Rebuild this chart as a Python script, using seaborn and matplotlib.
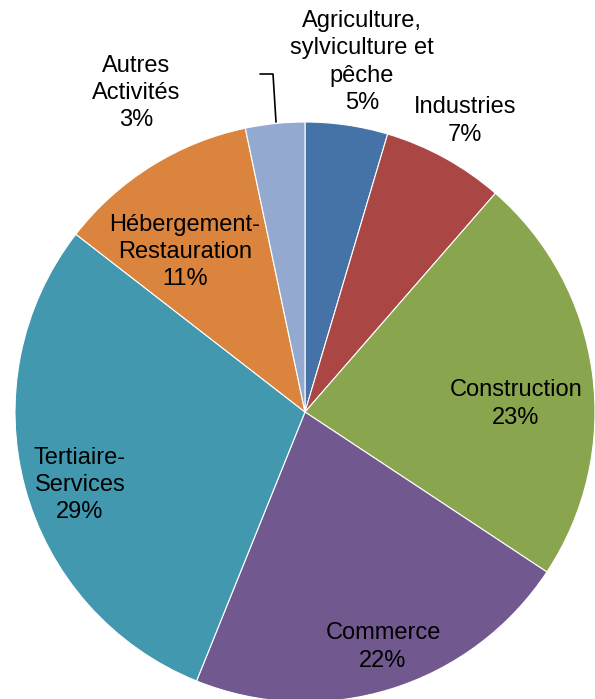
import matplotlib
matplotlib.use("Agg")
import matplotlib.pyplot as plt
import seaborn as sns

categories = ["Agriculture,\nsylviculture et\npêche", "Industries", "Construction",
              "Commerce", "Tertiaire-\nServices", "Hébergement-\nRestauration",
              "Autres\nActivités"]
shares = [4.6, 6.8, 22.9, 21.8, 29.4, 11.2, 3.3]
colors = ["#4572A7", "#AA4643", "#89A54E", "#71588F", "#4198AF", "#DB843D", "#93A9CF"]

# label centres in pixel coords (x, y from top)
label_pos = [(362, 62), (465, 121), (516, 404), (383, 647), (80, 485), (185, 252), (136, 93)]

sns.set_style("white")
plt.rcParams['font.family'] = ['Liberation Sans', 'DejaVu Sans']

W, H = 595, 699
fig = plt.figure(figsize=(W / 100, H / 100), dpi=100)
ax = fig.add_axes([0, 0, 1, 1])

cx, cy, r = 305, H - 412, 290
ax.pie(shares, colors=colors, startangle=90, counterclock=False,
       center=(cx, cy), radius=r, frame=True,
       wedgeprops=dict(edgecolor='white', linewidth=0.8))
ax.set_xlim(0, W)
ax.set_ylim(0, H)
ax.set_aspect('equal')
ax.axis('off')

for cat, val, (x, y) in zip(categories, shares, label_pos):
    ax.text(x, H - y, f"{cat}\n{val:.0f}%", ha='center', va='center',
            fontsize=17, linespacing=1.3, color='black')

# leader line for the small slice
ax.plot([260, 273, 276], [H - 74, H - 74, H - 122], color='black', lw=1.2)

fig.savefig("out.png", dpi=100)
